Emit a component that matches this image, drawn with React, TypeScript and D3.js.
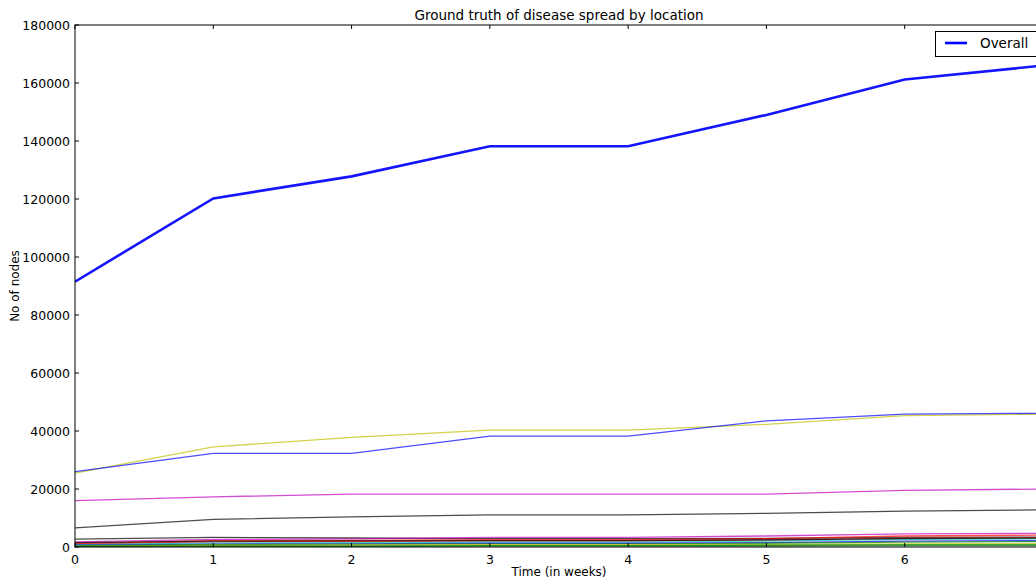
import React from "react";
import * as d3 from "d3";

const weeks = [0, 1, 2, 3, 4, 5, 6, 7];
const overall = [91500, 120200, 127800, 138200, 138200, 149000, 161200, 166000];

const locationColors = ["y", "b", "m", "k", "k", "m", "r", "r", "c", "b", "g", "y", "g", "k", "g"];
const locationValues: number[][] = [
  [25500, 34500, 37800, 40300, 40300, 42300, 45300, 45800],
  [26000, 32300, 32300, 38200, 38200, 43500, 45800, 46100],
  [16000, 17300, 18200, 18200, 18200, 18200, 19500, 20000],
  [6600, 9500, 10400, 11100, 11100, 11600, 12400, 12800],
  [2700, 3300, 3100, 2900, 2900, 3000, 3300, 3400],
  [1800, 2600, 2800, 3300, 3300, 3800, 4500, 4700],
  [1200, 2200, 2300, 2500, 2500, 2900, 3800, 4100],
  [1000, 1800, 1900, 2100, 2100, 2400, 3000, 3200],
  [800, 1400, 1500, 1700, 1700, 2000, 2600, 2800],
  [600, 1000, 1100, 1300, 1300, 1500, 2000, 2200],
  [500, 900, 1000, 1100, 1100, 1300, 1700, 1900],
  [300, 600, 700, 800, 800, 900, 1100, 1200],
  [200, 400, 400, 500, 500, 600, 800, 800],
  [1500, 2000, 2100, 2200, 2200, 2500, 2900, 3100],
  [100, 200, 250, 300, 300, 350, 450, 500],
];

const xTicks = [0, 1, 2, 3, 4, 5, 6, 7];
const xTickLabels = ["0", "1", "2", "3", "4", "5", "6", ""];
const yTicks = [0, 20000, 40000, 60000, 80000, 100000, 120000, 140000, 160000, 180000];

const colorMap: Record<string, string> = {
  b: "#0000ff",
  g: "#008000",
  r: "#ff0000",
  c: "#00bfbf",
  m: "#bf00bf",
  y: "#bfbf00",
  k: "#000000",
};

export default function App() {
  const W = 1036;
  const H = 580;
  const left = 75;
  const right = 1043;
  const top = 25;
  const bottom = 547;
  const x = d3.scaleLinear().domain([0, 7]).range([left, right]);
  const y = d3.scaleLinear().domain([0, 180000]).range([bottom, top]);
  const line = d3
    .line<number>()
    .x((_, i) => x(weeks[i]))
    .y((d) => y(d));
  const font = "DejaVu Sans, sans-serif";

  return (
    <svg
      width={W}
      height={H}
      style={{ position: "absolute", left: 0, top: 0, background: "#fff" }}
      fontFamily={font}
    >
      <rect x={0} y={0} width={W} height={H} fill="#fff" />
      <defs>
        <clipPath id="plot">
          <rect x={left} y={top} width={right - left} height={bottom - top} />
        </clipPath>
      </defs>
      <g clipPath="url(#plot)">
        {locationValues.map((vals, i) => (
          <path
            key={i}
            d={line(vals) || ""}
            fill="none"
            stroke={colorMap[locationColors[i]]}
            strokeOpacity={0.7}
            strokeWidth={1.3}
          />
        ))}
        <path d={line(overall) || ""} fill="none" stroke="#0000ff" strokeWidth={2.6} strokeOpacity={0.92} />
      </g>
      <rect x={left} y={top} width={right - left} height={bottom - top} fill="none" stroke="#000" strokeWidth={1} />
      {xTicks.map((t, i) => (
        <g key={"x" + t}>
          <line x1={x(t)} x2={x(t)} y1={bottom} y2={bottom - 4} stroke="#000" />
          <line x1={x(t)} x2={x(t)} y1={top} y2={top + 4} stroke="#000" />
          {xTickLabels[i] && (
            <text x={x(t)} y={bottom + 17} fontSize={12.5} textAnchor="middle" fill="#000">
              {xTickLabels[i]}
            </text>
          )}
        </g>
      ))}
      {yTicks.map((t) => (
        <g key={"y" + t}>
          <line x1={left} x2={left + 4} y1={y(t)} y2={y(t)} stroke="#000" />
          <text x={left - 5} y={y(t) + 4.5} fontSize={12.5} textAnchor="end" fill="#000">
            {t}
          </text>
        </g>
      ))}
      <text x={(left + right) / 2} y={20} fontSize={13.5} textAnchor="middle" fill="#000">
        Ground truth of disease spread by location
      </text>
      <text x={(left + right) / 2} y={576} fontSize={12} textAnchor="middle" fill="#000">
        Time (in weeks)
      </text>
      <text
        transform={`translate(19, ${(top + bottom) / 2}) rotate(-90)`}
        fontSize={12}
        textAnchor="middle"
        fill="#000"
      >
        No of nodes
      </text>
      <rect x={935.5} y={31.5} width={110} height={25} fill="#fff" stroke="#000" strokeWidth={1} />
      <line x1={945} x2={967} y1={43} y2={43} stroke="#0000ff" strokeWidth={2.6} />
      <text x={980} y={48} fontSize={13.5} fill="#000">
        Overall
      </text>
    </svg>
  );
}
